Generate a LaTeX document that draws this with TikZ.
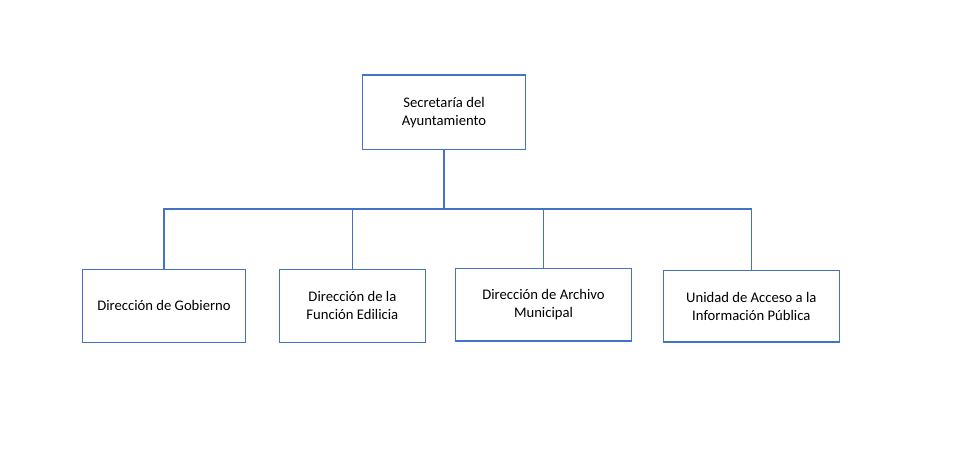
\documentclass[tikz,border=0pt]{standalone}
\usepackage{fontspec}
\setmainfont{Carlito}
\usepackage{xcolor}
\usetikzlibrary{positioning}
\definecolor{boxblue}{HTML}{4472C4}
\tikzset{
	unitbox/.style={draw=boxblue,line width=0.9pt,fill=white,align=center,inner sep=0pt,font=\fontsize{11}{13.4}\selectfont},
	link/.style={draw=boxblue,line width=0.9pt}
}
\begin{document}
\begin{tikzpicture}[x=0.75pt,y=-0.75pt]
		\useasboundingbox (0,0) rectangle (961,460);
		\node[unitbox,minimum width=122.6pt,minimum height=55.7pt] (secretaria) at (444,112.2) {Secretaría del\\Ayuntamiento};
		\node[unitbox,minimum width=122.6pt,minimum height=54.8pt] (gobierno) at (164,305.8) {Dirección de Gobierno};
		\node[unitbox,minimum width=109.7pt,minimum height=54.8pt] (edilicia) at (352.4,305.8) {Dirección de la\\Función Edilicia};
		\node[unitbox,minimum width=132pt,minimum height=54.5pt] (archivo) at (543.5,304.7) {Dirección de Archivo\\Municipal};
		\node[unitbox,minimum width=132pt,minimum height=53.8pt] (acceso) at (751.3,306.2) {Unidad de Acceso a la\\Información Pública};
		\coordinate (bus) at (444,209);
		\draw[link] (secretaria.south) -- (bus);
		\draw[link] (bus) -| (gobierno.north);
		\draw[link] (bus) -| (edilicia.north);
		\draw[link] (bus) -| (archivo.north);
		\draw[link] (bus) -| (acceso.north);
	\end{tikzpicture}
\end{document}
